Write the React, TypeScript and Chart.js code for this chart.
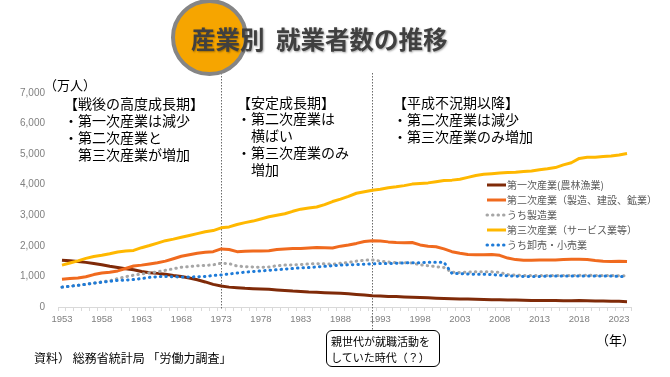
import React, { useEffect, useRef } from 'react';
import { Chart, registerables } from 'chart.js';

Chart.register(...registerables);

const FONT_JP = '"Noto Sans CJK JP", "Noto Sans", sans-serif';
const FONT_NUM = '"Liberation Sans", Arial, sans-serif';

// ---------- DATA ----------
const years = [
  '1953', '1954', '1955', '1956', '1957', '1958', '1959', '1960', '1961', '1962',
  '1963', '1964', '1965', '1966', '1967', '1968', '1969', '1970', '1971', '1972',
  '1973', '1974', '1975', '1976', '1977', '1978', '1979', '1980', '1981', '1982',
  '1983', '1984', '1985', '1986', '1987', '1988', '1989', '1990', '1991', '1992',
  '1993', '1994', '1995', '1996', '1997', '1998', '1999', '2000', '2001', '2002',
  '2003', '2004', '2005', '2006', '2007', '2008', '2009', '2010', '2011', '2012',
  '2013', '2014', '2015', '2016', '2017', '2018', '2019', '2020', '2021', '2022',
  '2023', '2024',
];

const primary = [
  1530, 1510, 1490, 1460, 1420, 1380, 1330, 1290, 1250, 1220,
  1160, 1120, 1100, 1070, 1030, 1000, 950, 890, 820, 740,
  690, 650, 630, 610, 600, 590, 580, 560, 540, 520,
  510, 490, 480, 470, 460, 450, 430, 410, 390, 370,
  360, 340, 340, 330, 320, 310, 300, 290, 280, 270,
  265, 260, 255, 245, 240, 235, 230, 230, 220, 215,
  210, 210, 210, 205, 205, 210, 205, 200, 195, 190,
  185, 175,
];

const secondary = [
  910, 930, 950, 990, 1060, 1110, 1140, 1180, 1260, 1340,
  1370, 1410, 1450, 1500, 1580, 1660, 1710, 1760, 1790, 1810,
  1900, 1880, 1810, 1820, 1830, 1830, 1840, 1880, 1900, 1910,
  1910, 1930, 1950, 1940, 1930, 1990, 2030, 2080, 2140, 2170,
  2160, 2130, 2110, 2100, 2110, 2030, 1990, 1970, 1900, 1810,
  1760, 1720, 1710, 1710, 1720, 1690, 1600, 1550, 1530, 1530,
  1540, 1540, 1540, 1550, 1560, 1560, 1550, 1520, 1500, 1490,
  1500, 1490,
];

const manufacturing = [
  650, 680, 710, 740, 780, 820, 860, 930, 990, 1040,
  1080, 1120, 1150, 1200, 1250, 1300, 1320, 1350, 1360, 1380,
  1430, 1420, 1340, 1320, 1310, 1300, 1310, 1350, 1370, 1380,
  1390, 1410, 1420, 1410, 1400, 1430, 1460, 1500, 1530, 1540,
  1500, 1470, 1450, 1450, 1440, 1380, 1350, 1320, 1290, 1140,
  1130, 1140, 1150, 1150, 1150, 1130, 1060, 1040, 1030, 1030,
  1030, 1030, 1030, 1030, 1030, 1040, 1040, 1030, 1030, 1030,
  1020, 1020,
];

const tertiary = [
  1370, 1440, 1510, 1590, 1650, 1690, 1740, 1800, 1830, 1850,
  1940, 2010, 2090, 2170, 2220, 2280, 2340, 2400, 2460, 2500,
  2590, 2620, 2700, 2760, 2810, 2880, 2950, 3000, 3050, 3130,
  3200, 3240, 3270, 3350, 3450, 3530, 3620, 3720, 3770, 3820,
  3850, 3900, 3930, 3970, 4020, 4040, 4060, 4100, 4140, 4150,
  4180, 4240, 4300, 4340, 4360, 4380, 4400, 4410, 4430, 4450,
  4490, 4520, 4560, 4650, 4720, 4860, 4900, 4900, 4920, 4940,
  4970, 5020,
];

const wholesale = [
  650, 680, 710, 740, 780, 810, 840, 870, 880, 900,
  930, 970, 990, 1000, 990, 980, 980, 990, 1000, 1030,
  1050, 1080, 1110, 1140, 1160, 1180, 1200, 1220, 1240, 1260,
  1280, 1290, 1310, 1330, 1350, 1370, 1380, 1390, 1400, 1410,
  1420, 1420, 1430, 1440, 1450, 1450, 1460, 1460, 1460, 1100,
  1090, 1080, 1070, 1070, 1060, 1040, 1020, 1010, 1000, 1000,
  1000, 1010, 1010, 1010, 1010, 1010, 1010, 1010, 1010, 1010,
  1000, 1000,
];

const seriesNames = [
  '第一次産業(農林漁業)',
  '第二次産業（製造、建設、鉱業）',
  'うち製造業',
  '第三次産業（サービス業等）',
  'うち卸売・小売業',
];

const markerYears = ['1973', '1992'];

// ---------- PLUGINS ----------
const markerPlugin = {
  id: 'markerLines',
  beforeDatasetsDraw(chart: any) {
    const { ctx, scales, chartArea } = chart;
    const xs = scales.x;
    ctx.save();
    ctx.strokeStyle = '#6b6b6b';
    ctx.lineWidth = 1;
    ctx.setLineDash([1.5, 1.5]);
    markerYears.forEach((yr, i) => {
      const x = Math.round(xs.getPixelForValue(years.indexOf(yr))) + 0.5;
      const bottom = i === 0 ? chartArea.bottom + 3 : chartArea.bottom + 24;
      ctx.beginPath();
      ctx.moveTo(x, 73);
      ctx.lineTo(x, bottom);
      ctx.stroke();
    });
    ctx.restore();
  },
};

const legendPlugin = {
  id: 'customLegend',
  afterDatasetsDraw(chart: any) {
    const { ctx } = chart;
    const left = 486;
    const top = 185;
    const step = 15;
    ctx.save();
    chart.data.datasets.forEach((ds: any, i: number) => {
      const y = top + i * step;
      ctx.beginPath();
      ctx.strokeStyle = ds.borderColor;
      ctx.lineWidth = ds.borderWidth;
      ctx.lineCap = ds.borderDash && ds.borderDash.length ? 'round' : 'butt';
      ctx.setLineDash(ds.borderDash || []);
      ctx.moveTo(left + 1, y);
      ctx.lineTo(left + 20, y);
      ctx.stroke();
      ctx.setLineDash([]);
      ctx.fillStyle = '#595959';
      ctx.font = `10px ${FONT_JP}`;
      ctx.textBaseline = 'middle';
      ctx.textAlign = 'left';
      ctx.fillText(ds.label, left + 21, y + 0.5);
    });
    ctx.restore();
  },
};

export default function App() {
  const ref = useRef<HTMLCanvasElement>(null);

  useEffect(() => {
    const dotted = [0.5, 5];
    const chart = new Chart(ref.current as HTMLCanvasElement, {
      type: 'line',
      data: {
        labels: years,
        datasets: [
          { label: seriesNames[0], data: primary, borderColor: '#7F2A08', borderWidth: 3, order: 5 },
          { label: seriesNames[1], data: secondary, borderColor: '#F06A1E', borderWidth: 3, order: 4 },
          { label: seriesNames[2], data: manufacturing, borderColor: '#A6A6A6', borderWidth: 3, borderDash: dotted, borderCapStyle: 'round', order: 3 },
          { label: seriesNames[3], data: tertiary, borderColor: '#FFB800', borderWidth: 3, order: 2 },
          { label: seriesNames[4], data: wholesale, borderColor: '#1E7BD8', borderWidth: 3, borderDash: dotted, borderCapStyle: 'round', order: 1 },
        ] as any,
      },
      options: {
        responsive: false,
        animation: false,
        devicePixelRatio: 1,
        layout: { padding: { top: 93, right: 39, bottom: 0, left: 0 } },
        elements: {
          point: { radius: 0, hoverRadius: 0 },
          line: { tension: 0, fill: false, borderJoinStyle: 'round' },
        },
        plugins: {
          legend: { display: false },
          tooltip: { enabled: false },
          title: { display: false },
        },
        scales: {
          x: {
            type: 'category',
            offset: true,
            grid: {
              display: true,
              drawOnChartArea: false,
              drawTicks: true,
              tickLength: 4,
              color: '#D9D9D9',
              offset: true,
            },
            border: { display: true, color: '#D9D9D9' },
            ticks: {
              autoSkip: false,
              maxRotation: 0,
              minRotation: 0,
              padding: 3,
              color: '#808080',
              font: { family: FONT_NUM, size: 9.5 },
              callback: (_v: any, i: number) => (i % 5 === 0 ? years[i] : ''),
            },
            afterFit: (s: any) => {
              s.height = 70;
            },
          },
          y: {
            min: 0,
            max: 7000,
            grid: { display: false, drawTicks: false },
            border: { display: false },
            ticks: {
              stepSize: 1000,
              padding: 13,
              color: '#808080',
              font: { family: FONT_NUM, size: 10 },
              callback: (v: any) => Number(v).toLocaleString('en-US'),
            },
            afterFit: (s: any) => {
              s.width = 58;
            },
          },
        },
      },
      plugins: [markerPlugin, legendPlugin],
    });
    return () => chart.destroy();
  }, []);

  const txt: React.CSSProperties = {
    position: 'absolute',
    whiteSpace: 'pre',
    fontFamily: FONT_JP,
    color: '#000',
  };

  return (
    <div
      style={{
        position: 'absolute',
        left: 0,
        top: 0,
        width: 670,
        height: 377,
        background: '#fff',
        overflow: 'hidden',
      }}
    >
      <canvas
        ref={ref}
        width={670}
        height={377}
        style={{ position: 'absolute', left: 0, top: 0, width: 670, height: 377 }}
      />
      {/* title */}
      <div
        style={{
          position: 'absolute',
          left: 171,
          top: -1,
          width: 77,
          height: 77,
          borderRadius: '50%',
          background: '#F6A500',
          border: '4px solid #858585',
          boxSizing: 'border-box',
        }}
      />
      <div
        style={{
          ...txt,
          left: 191,
          top: 26,
          fontSize: 24.5,
          lineHeight: '26px',
          fontWeight: 700,
          color: '#404040',
          wordSpacing: 6,
          textShadow: '1px 1px 2px rgba(0,0,0,0.35)',
        }}
      >
        産業別 就業者数の推移
      </div>
      {/* unit labels */}
      <div style={{ ...txt, left: 44, top: 76, fontSize: 13, lineHeight: '18px' }}>（万人）</div>
      <div style={{ ...txt, left: 596, top: 331, fontSize: 13, lineHeight: '18px' }}>（年）</div>
      {/* annotations */}
      <div style={{ ...txt, left: 64, top: 94.5, fontSize: 14, lineHeight: '17.2px' }}>
        {'【戦後の高度成長期】\n・第一次産業は減少\n・第二次産業と\n　第三次産業が増加'}
      </div>
      <div style={{ ...txt, left: 237, top: 93.5, fontSize: 14, lineHeight: '16.9px' }}>
        {'【安定成長期】\n・第二次産業は\n　横ばい\n・第三次産業のみ\n　増加'}
      </div>
      <div style={{ ...txt, left: 393, top: 93.5, fontSize: 14, lineHeight: '17.2px' }}>
        {'【平成不況期以降】\n・第二次産業は減少\n・第三次産業のみ増加'}
      </div>
      {/* source */}
      <div style={{ ...txt, left: 34, top: 350, fontSize: 12, lineHeight: '16px' }}>
        資料） 総務省統計局 「労働力調査」
      </div>
      {/* callout */}
      <div
        style={{
          position: 'absolute',
          left: 326,
          top: 330,
          width: 114,
          height: 37,
          border: '1.5px solid #000',
          borderRadius: 6,
          background: '#fff',
          boxSizing: 'border-box',
        }}
      />
      <div style={{ ...txt, left: 331, top: 333, fontSize: 11, lineHeight: '16px' }}>
        {'親世代が就職活動を\nしていた時代（？）'}
      </div>
    </div>
  );
}
